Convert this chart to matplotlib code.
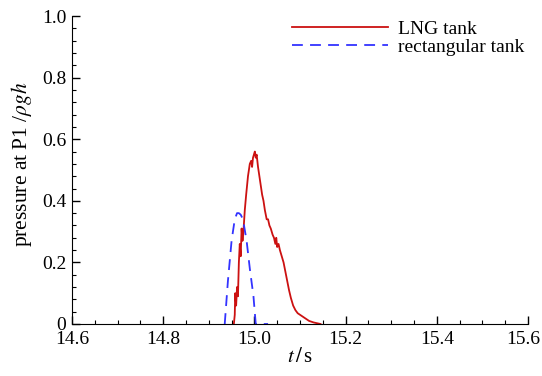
import matplotlib
matplotlib.use("Agg")
import matplotlib.pyplot as plt
from matplotlib.ticker import MultipleLocator
from matplotlib.transforms import ScaledTranslation

plt.rcParams["font.family"] = ["Liberation Serif", "DejaVu Serif"]
plt.rcParams["mathtext.fontset"] = "stix"

# LNG tank pressure at P1
t_lng = [14.955, 14.957, 14.958, 14.960, 14.962, 14.964, 14.966, 14.968, 14.970,
         14.972, 14.974, 14.976, 14.979, 14.982, 14.986, 14.990, 14.993, 14.995,
         14.997, 14.999, 15.001, 15.003, 15.005, 15.008, 15.011, 15.014, 15.017,
         15.020, 15.023, 15.027, 15.030, 15.033, 15.036, 15.040, 15.043, 15.046,
         15.048, 15.050, 15.053, 15.056, 15.060, 15.064, 15.068, 15.072, 15.076,
         15.080, 15.085, 15.090, 15.095, 15.100, 15.110, 15.120, 15.130, 15.145]
p_lng = [0.0, 0.03, 0.10, 0.06, 0.12, 0.09, 0.20, 0.26, 0.22, 0.31, 0.27, 0.30,
         0.37, 0.42, 0.48, 0.52, 0.53, 0.51, 0.54, 0.55, 0.56, 0.54, 0.55, 0.51,
         0.48, 0.45, 0.42, 0.40, 0.37, 0.34, 0.34, 0.32, 0.31, 0.29, 0.28, 0.26,
         0.28, 0.25, 0.26, 0.24, 0.22, 0.20, 0.17, 0.14, 0.11, 0.085, 0.06, 0.045,
         0.035, 0.03, 0.02, 0.01, 0.005, 0.0]

# rectangular tank pressure at P1
t_rect = [14.935, 14.942, 14.950, 14.957, 14.962, 14.966, 14.970, 14.975, 14.983,
          14.990, 14.998, 15.003, 15.010, 15.030]
p_rect = [0.0, 0.14, 0.27, 0.34, 0.36, 0.36, 0.355, 0.34, 0.27, 0.18, 0.09, 0.0,
          0.0, 0.0]

x_ticks = [14.6, 14.8, 15.0, 15.2, 15.4, 15.6]
x_labels = ["14.6", "14.8", "15.0", "15.2", "15.4", "15.6"]
y_ticks = [0, 0.2, 0.4, 0.6, 0.8, 1.0]
y_labels = ["0", "0.2", "0.4", "0.6", "0.8", "1.0"]

fig = plt.figure(figsize=(5.42, 3.76), dpi=100)
ax = fig.add_axes([0.1328, 0.1383, 0.8413, 0.819])

ax.plot(t_lng, p_lng, color="#cc1111", lw=1.3, label="LNG tank")
ax.plot(t_rect, p_rect, color="#3333ff", lw=1.3, ls=(0, (6, 4)), label="rectangular tank")

ax.set_xlim(14.6, 15.6)
ax.set_ylim(0, 1.0)
ax.set_xticks(x_ticks)
ax.set_xticklabels(x_labels)
ax.set_yticks(y_ticks)
ax.set_yticklabels(y_labels)
ax.xaxis.set_minor_locator(MultipleLocator(0.05))
ax.yaxis.set_minor_locator(MultipleLocator(0.04))

for side in ["top", "right"]:
    ax.spines[side].set_visible(False)
ax.tick_params(which="both", direction="in", labelsize=14)
ax.tick_params(which="major", length=6, width=1)
ax.tick_params(which="minor", length=3, width=0.8)
ax.tick_params(axis="x", pad=5)
ax.tick_params(axis="y", pad=4)

# nudge the last x label left so it stays inside the figure
last = ax.get_xticklabels()[-1]
last.set_transform(last.get_transform() + ScaledTranslation(-5 / 100, 0, fig.dpi_scale_trans))

ax.set_xlabel(r"$t\,/\,$s", fontsize=15, labelpad=0)
ax.set_ylabel(r"pressure at P1 /$\rho gh$", fontsize=15.5)
ax.yaxis.set_label_coords(-0.084, 0.52)

ax.legend(loc="upper left", bbox_to_anchor=(292 / 542, 1 - 20 / 376),
          bbox_transform=fig.transFigure, frameon=False, fontsize=14,
          handlelength=4.95, handletextpad=0.5, borderpad=0, borderaxespad=0,
          labelspacing=0.05)

fig.savefig("out.png", dpi=100)
